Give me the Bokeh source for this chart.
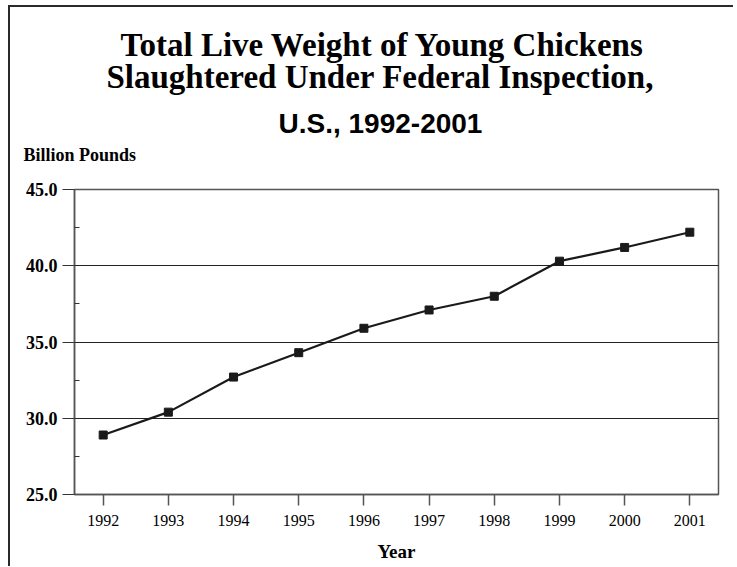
from bokeh.plotting import figure
from bokeh.models import FixedTicker, Title, Range1d, PrintfTickFormatter
from bokeh.layouts import column
from bokeh.embed import file_html
from bokeh.resources import INLINE

years = [1992, 1993, 1994, 1995, 1996, 1997, 1998, 1999, 2000, 2001]
weights = [28.9, 30.4, 32.7, 34.3, 35.9, 37.1, 38.0, 40.3, 41.2, 42.2]
y_ticks = [25.0, 30.0, 35.0, 40.0, 45.0]
y_minor = [27.5, 32.5, 37.5, 42.5]
grid_ticks = [30.0, 35.0, 40.0]

title1 = "Total Live Weight of Young Chickens"
title2 = "Slaughtered Under Federal Inspection,"
title3 = "U.S., 1992-2001"
units = "Billion Pounds"
x_label = "Year"

SERIF = "Liberation Serif"
SANS = "Liberation Sans"

p = figure(frame_width=644, frame_height=305,
           min_border_left=64, min_border_right=15,
           min_border_top=182, min_border_bottom=72,
           x_range=Range1d(1991.56, 2001.44), y_range=Range1d(25, 45),
           output_backend="svg", toolbar_location=None,
           background_fill_color="white", border_fill_color="white")
p.title = None

p.outline_line_color = "#555555"
p.outline_line_width = 1.5

# titles (first added is closest to the frame); left aligned with offsets
# so that the centred block sits slightly left of the frame centre
p.add_layout(Title(text=units, text_font=SERIF, text_font_size="18px",
                   text_font_style="bold", align="left", offset=-51,
                   standoff=49, text_color="black"), "above")
p.add_layout(Title(text=title3, text_font=SANS, text_font_size="28px",
                   text_font_style="bold", align="left", offset=204,
                   standoff=-40, text_color="black"), "above")
p.add_layout(Title(text=title2, text_font=SERIF, text_font_size="33px",
                   text_font_style="bold", align="left", offset=32,
                   standoff=47, text_color="black"), "above")
p.add_layout(Title(text=title1, text_font=SERIF, text_font_size="33px",
                   text_font_style="bold", align="left", offset=46,
                   standoff=-59, text_color="black"), "above")

# x axis
xa = p.xaxis[0]
xa.ticker = FixedTicker(ticks=years)
xa.major_label_text_font = SERIF
xa.major_label_text_font_size = "16px"
xa.major_label_text_color = "black"
xa.major_tick_out = 11
xa.major_tick_in = 0
xa.major_tick_line_color = "#555555"
xa.major_tick_line_width = 1.5
xa.minor_tick_line_color = None
xa.axis_line_color = "#555555"
xa.axis_line_width = 1.5
xa.major_label_standoff = 9
xa.axis_label = x_label
xa.axis_label_text_font = SERIF
xa.axis_label_text_font_size = "19px"
xa.axis_label_text_font_style = "bold"
xa.axis_label_text_color = "black"
xa.axis_label_standoff = 12

# y axis
ya = p.yaxis[0]
ya.ticker = FixedTicker(ticks=y_ticks, minor_ticks=y_minor)
ya.formatter = PrintfTickFormatter(format="%.1f")
ya.major_label_text_font = SERIF
ya.major_label_text_font_size = "18px"
ya.major_label_text_font_style = "bold"
ya.major_label_text_color = "black"
ya.major_tick_out = 12
ya.major_tick_in = 0
ya.major_tick_line_color = "#333333"
ya.major_tick_line_width = 1.2
ya.minor_tick_in = 5
ya.minor_tick_out = 0
ya.minor_tick_line_color = "#333333"
ya.minor_tick_line_width = 1.2
ya.axis_line_color = "#555555"
ya.axis_line_width = 1.5
ya.major_label_standoff = 5

p.xgrid.grid_line_color = None
p.ygrid.ticker = FixedTicker(ticks=grid_ticks)
p.ygrid.grid_line_color = "#222222"
p.ygrid.grid_line_width = 1.2

p.line(years, weights, line_color="#1a1a1a", line_width=2.2)
p.scatter(years, weights, marker="square", size=8,
          fill_color="#1a1a1a", line_color="#1a1a1a")

layout = column(p, margin=(5, 0, 0, 8),
                styles={"border-left": "2px solid #2a2a2a",
                        "border-top": "2px solid #2a2a2a"})

open("out.html", "w").write(file_html(layout, INLINE))
